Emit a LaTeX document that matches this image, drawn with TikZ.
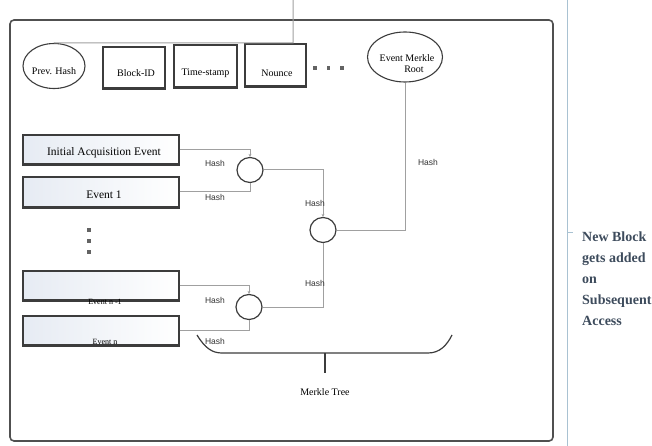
\documentclass[tikz,border=0pt]{standalone}
\usepackage{fontspec}
\setmainfont{Liberation Serif}
\newfontfamily\hashfont{Liberation Sans}
\usetikzlibrary{shapes.geometric,arrows.meta}
\definecolor{frameC}{HTML}{505050}
\definecolor{boxC}{HTML}{3C3C3C}
\definecolor{lineC}{HTML}{A0A0A0}
\definecolor{sideC}{HTML}{A9C2D2}
\definecolor{txtC}{HTML}{3D4B5C}
\definecolor{fillC}{HTML}{E6EBF3}
\tikzset{
  field/.style={draw=boxC, line width=1.1pt, inner sep=0pt},
  oval/.style={ellipse, draw=boxC, line width=1.1pt, inner sep=0pt},
  ftext/.style={inner sep=0pt, align=center, font=\fontsize{10}{12}\selectfont},
  evbox/.style={draw=boxC, line width=1.1pt, inner sep=0pt, minimum width=156pt, left color=fillC, right color=white},
  etext/.style={inner sep=0pt, font=\fontsize{11.5}{12}\selectfont},
  hnode/.style={ellipse, draw=boxC, line width=1.2pt, inner sep=0pt, minimum width=26pt, minimum height=25pt},
  conn/.style={draw=lineC, line width=1pt},
  tip/.style={-{Stealth[length=3pt,width=3pt]}},
  hashlbl/.style={font=\hashfont\fontsize{8.5}{9}\selectfont, text=black!80, inner sep=0pt},
  dotsq/.style={fill=boxC!80, minimum size=3.5pt, inner sep=0pt},
  shadowline/.style={draw=boxC, line width=2pt}
}
\begin{document}
\begin{tikzpicture}[x=1pt,y=-1pt]
\useasboundingbox (0,0) rectangle (652,446);
% side line
\draw[sideC, line width=0.8pt] (567,0) -- (567,446);
\draw[sideC, line width=0.8pt] (567,232) -- (573,232);
\node[anchor=north west, align=left, text=txtC, font=\fontsize{14}{21}\selectfont\bfseries, inner sep=0pt] (side) at (582,232)
  {New Block\\gets added\\on\\Subsequent\\Access};
% frame
\draw[frameC, line width=1.6pt, rounded corners=4pt] (10,20) rectangle (553,441);
% header fields
\node[oval, minimum width=62pt, minimum height=45pt] (prev) at (54,66) {};
\node[ftext] (prevt) at ([yshift=-5pt]prev.center) {Prev. Hash};
\node[field, minimum width=62pt, minimum height=41pt] (bid) at (134,67.5) {};
\node[ftext] (bidt) at (136,73) {Block-ID};
\node[field, minimum width=63pt, minimum height=42pt] (ts) at (205.5,66) {};
\node[ftext] (tst) at (205.5,73) {Time-stamp};
\node[field, minimum width=61pt, minimum height=42pt] (non) at (275.5,65) {};
\node[ftext] (nont) at (277,73) {Nounce};
\foreach \b in {bid,ts,non} \draw[shadowline] (\b.south west) -- (\b.south east);
\node[dotsq] (d1) at (315,68) {};
\node[dotsq] (d2) at (328.5,68) {};
\node[dotsq] (d3) at (342,68) {};
\node[oval, minimum width=75pt, minimum height=50pt] (root) at (405,57) {};
\node[ftext] (roott) at (407,64) {Event Merkle\\[-1pt]\hspace*{14pt}Root};
% link on top
\coordinate (topin) at (293,0);
\draw[conn] (topin) -- (293,43) -- (prev.north);
% events
\node[evbox, minimum height=29pt] (ev0) at (101,149.5) {};
\node[etext] (ev0t) at (104,152.5) {Initial Acquisition Event};
\node[evbox, minimum height=30pt] (ev1) at (101,192) {};
\node[etext] (ev1t) at (104,195) {Event 1};
\node[evbox, minimum height=29pt] (evn1) at (101,285.5) {};
\node[evbox, minimum height=29pt] (evn) at (101,330.5) {};
\foreach \b in {ev0,ev1,evn1,evn} \draw[shadowline] (\b.south west) -- (\b.south east);
\node[font=\fontsize{8}{9}\selectfont, inner sep=0pt] (tn1) at (105,302) {Event n -1};
\node[font=\fontsize{8}{9}\selectfont, inner sep=0pt] (tn) at (105,342) {Event n};
\node[dotsq] (v1) at (89,230) {};
\node[dotsq] (v2) at (89,241) {};
\node[dotsq] (v3) at (89,252) {};
% hash nodes
\node[hnode] (c1) at (250,170) {};
\node[hnode] (c2) at (323,230) {};
\node[hnode] (c3) at (249,307) {};
% connectors
\draw[conn, tip] (ev0.east) -| (c1.north);
\draw[conn] (ev1.east) -| (c1.south);
\draw[conn, tip] (c1.east) -| (c2.north);
\draw[conn] (c2.south) |- (c3.east);
\draw[conn] (c2.east) -| (root.south);
\draw[conn, tip] (evn1.east) -| (c3.north);
\draw[conn] (evn.east) -| (c3.south);
% labels
\node[hashlbl] (h1) at (215,163) {Hash};
\node[hashlbl] (h2) at (215,197) {Hash};
\node[hashlbl] (h3) at (315,203) {Hash};
\node[hashlbl] (h4) at (428,162) {Hash};
\node[hashlbl] (h5) at (315,283) {Hash};
\node[hashlbl] (h6) at (215,300) {Hash};
\node[hashlbl] (h7) at (215,341) {Hash};
% merkle tree brace
\draw[boxC, line width=1.2pt] (197,335) .. controls (205,348) and (212,353) .. (222,353) -- (428,353) .. controls (440,353) and (447,345) .. (452,335);
\coordinate (brmid) at (325,353);
\node[font=\fontsize{10}{11}\selectfont, inner sep=0pt] (mt) at (325,392) {Merkle Tree};
\draw[boxC, line width=1.2pt] (brmid) -- (325,373);
\end{tikzpicture}
\end{document}
